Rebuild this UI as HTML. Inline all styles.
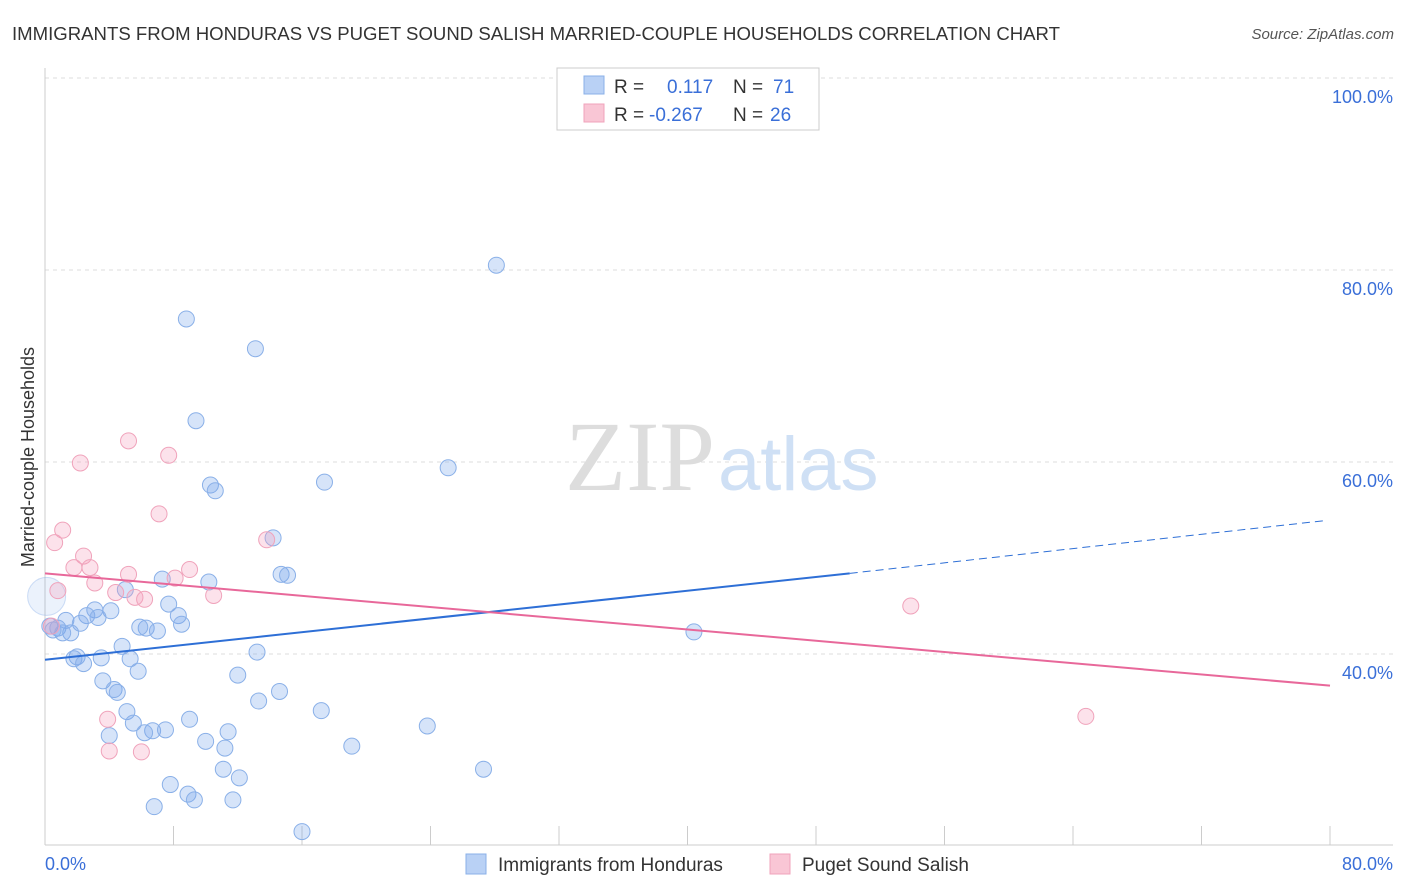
<!DOCTYPE html>
<html><head><meta charset="utf-8"><style>
body{margin:0;background:#fff;font-family:"Liberation Sans",sans-serif}
svg{display:block}
</style></head><body>
<svg id="chart" width="1406" height="892">
<text x="12" y="40" font-size="18" fill="#333" textLength="1048" lengthAdjust="spacingAndGlyphs">IMMIGRANTS FROM HONDURAS VS PUGET SOUND SALISH MARRIED-COUPLE HOUSEHOLDS CORRELATION CHART</text>
<text x="1394" y="39" font-size="15" fill="#555" text-anchor="end" font-style="italic">Source: ZipAtlas.com</text>
<text transform="translate(34,457) rotate(-90)" font-size="18" fill="#333" text-anchor="middle">Married-couple Households</text>
<g id="grid"></g>
<text x="715" y="490" font-size="100" fill="#ddd" text-anchor="end" font-family="Liberation Serif">ZIP</text>
<text x="718" y="490" font-size="76" fill="#cfe0f5">atlas</text>
<g id="marks"></g>
<g>
<rect x="557" y="68" width="262" height="62" fill="#fff" stroke="#ccc"/>
<rect x="584" y="76" width="20" height="18" fill="#b9d1f5" stroke="#8ab0e8"/>
<rect x="584" y="104" width="20" height="18" fill="#f9c6d5" stroke="#f0a3bb"/>
<text x="614" y="93" font-size="19" fill="#333">R = <tspan x="667" fill="#3a6fd8">0.117</tspan><tspan x="733" fill="#333">N = </tspan><tspan x="773" fill="#3a6fd8">71</tspan></text>
<text x="614" y="121" font-size="19" fill="#333">R = <tspan x="649" fill="#3a6fd8">-0.267</tspan><tspan x="733" fill="#333">N = </tspan><tspan x="770" fill="#3a6fd8">26</tspan></text>
</g>
<g>
<rect x="466" y="854" width="20" height="20" fill="#b9d1f5" stroke="#8ab0e8"/>
<text x="498" y="871" font-size="19" fill="#333">Immigrants from Honduras</text>
<rect x="770" y="854" width="20" height="20" fill="#f9c6d5" stroke="#f0a3bb"/>
<text x="802" y="871" font-size="19" fill="#333">Puget Sound Salish</text>
</g>
</svg>
<script>
const xTicks=[0,8,16,24,32,40,48,56,64,72,80];
const yTickLabels=[40,60,80,100];
const blueX=[28.1,8.8,13.1,9.4,25.1,10.3,10.6,17.4,14.2,14.7,15.1,7.3,10.2,5.0,7.7,3.1,4.1,2.6,8.3,3.3,1.3,2.2,8.5,0.3,0.8,6.3,5.9,7.0,1.6,1.1,0.5,4.8,40.4,13.2,2.0,1.8,3.5,5.3,2.4,5.8,12.0,3.6,4.3,4.5,14.6,13.3,5.1,17.2,9.0,5.5,6.7,7.5,6.2,11.4,4.0,10.0,11.2,19.1,23.8,11.1,27.3,12.1,7.8,8.9,9.3,11.7,6.8,16.0];
const blueY=[80.5,74.9,71.8,64.3,59.4,57.6,57.0,57.9,52.1,48.3,48.2,47.8,47.5,46.7,45.2,44.6,44.5,44.0,44.0,43.8,43.5,43.2,43.1,42.9,42.7,42.7,42.8,42.4,42.2,42.2,42.5,40.8,42.3,40.2,39.7,39.5,39.6,39.5,39.0,38.2,37.8,37.2,36.3,36.0,36.1,35.1,34.0,34.1,33.2,32.8,32.0,32.1,31.8,31.9,31.5,30.9,30.2,30.4,32.5,28.0,28.0,27.1,26.4,25.4,24.8,24.8,24.1,21.5];
const pinkX=[0.6,1.1,2.2,5.2,7.7,7.1,2.4,1.8,2.8,3.1,5.2,8.1,9.0,13.8,10.5,4.4,5.6,6.2,0.8,0.4,3.9,4.0,6.0,53.9,64.8];
const pinkY=[51.6,52.9,59.9,62.2,60.7,54.6,50.2,49.0,49.0,47.4,48.3,47.9,48.8,51.9,46.1,46.4,45.9,45.7,46.6,42.9,33.2,29.9,29.8,45.0,33.5];
const blueTrend=[[0,39.4],[50.1,48.4],[79.7,53.9]];
const pinkTrend=[[0,48.4],[80,36.7]];
const sx=v=>45+v*16.0625, sy=v=>78+(100-v)*9.6;
const NS="http://www.w3.org/2000/svg";
const grid=document.getElementById('grid'), marks=document.getElementById('marks');
function mk(tag,attrs,parent){const e=document.createElementNS(NS,tag);for(const k in attrs)e.setAttribute(k,attrs[k]);parent.appendChild(e);return e;}
yTickLabels.forEach(v=>{
 const l=mk('line',{x1:45,x2:1393,y1:sy(v),y2:sy(v),stroke:'#ddd','stroke-dasharray':'4,4'},grid);
 
 
 const t=mk('text',{x:1393,y:sy(v)+25,'font-size':18,fill:'#3a6fd8','text-anchor':'end'},grid);
 t.textContent=v.toFixed(1)+'%';
 
 
});
const ax=mk('line',{x1:45,x2:1393,y1:845,y2:845,stroke:'#ccc'},grid);


const ay=mk('line',{x1:45,x2:45,y1:68,y2:845,stroke:'#ccc'},grid);


xTicks.forEach(v=>{
 const l=mk('line',{x1:sx(v),x2:sx(v),y1:826,y2:845,stroke:'#ccc'},grid);
 
 
});
[[0,'start'],[80,'end']].forEach(([v,a])=>{
 const t=mk('text',{x:v===0?sx(v):sx(v)+63,y:870,'font-size':18,fill:'#3a6fd8','text-anchor':a},grid);
 t.textContent=v.toFixed(1)+'%';
 
 
});
const big=mk('circle',{cx:sx(0.1),cy:sy(46),r:19,fill:'rgba(120,165,235,0.15)',stroke:'rgba(138,176,232,0.4)'},marks);


blueX.forEach((x,i)=>{
 const c=mk('circle',{cx:sx(x),cy:sy(blueY[i]),r:8,fill:'rgba(120,165,235,0.3)',stroke:'#8ab0e8','stroke-width':1},marks);
 
 
});
pinkX.forEach((x,i)=>{
 const c=mk('circle',{cx:sx(x),cy:sy(pinkY[i]),r:8,fill:'rgba(245,160,190,0.3)',stroke:'#f0a3bb','stroke-width':1},marks);
 
 
});
const bt1=mk('line',{x1:sx(blueTrend[0][0]),y1:sy(blueTrend[0][1]),x2:sx(blueTrend[1][0]),y2:sy(blueTrend[1][1]),stroke:'#2e6fd6','stroke-width':2},marks);


const bt2=mk('line',{x1:sx(blueTrend[1][0]),y1:sy(blueTrend[1][1]),x2:sx(blueTrend[2][0]),y2:sy(blueTrend[2][1]),stroke:'#2e6fd6','stroke-width':1,'stroke-dasharray':'8,5'},marks);


const pt=mk('line',{x1:sx(pinkTrend[0][0]),y1:sy(pinkTrend[0][1]),x2:sx(pinkTrend[1][0]),y2:sy(pinkTrend[1][1]),stroke:'#e8689a','stroke-width':2},marks);


</script>
</body></html>
